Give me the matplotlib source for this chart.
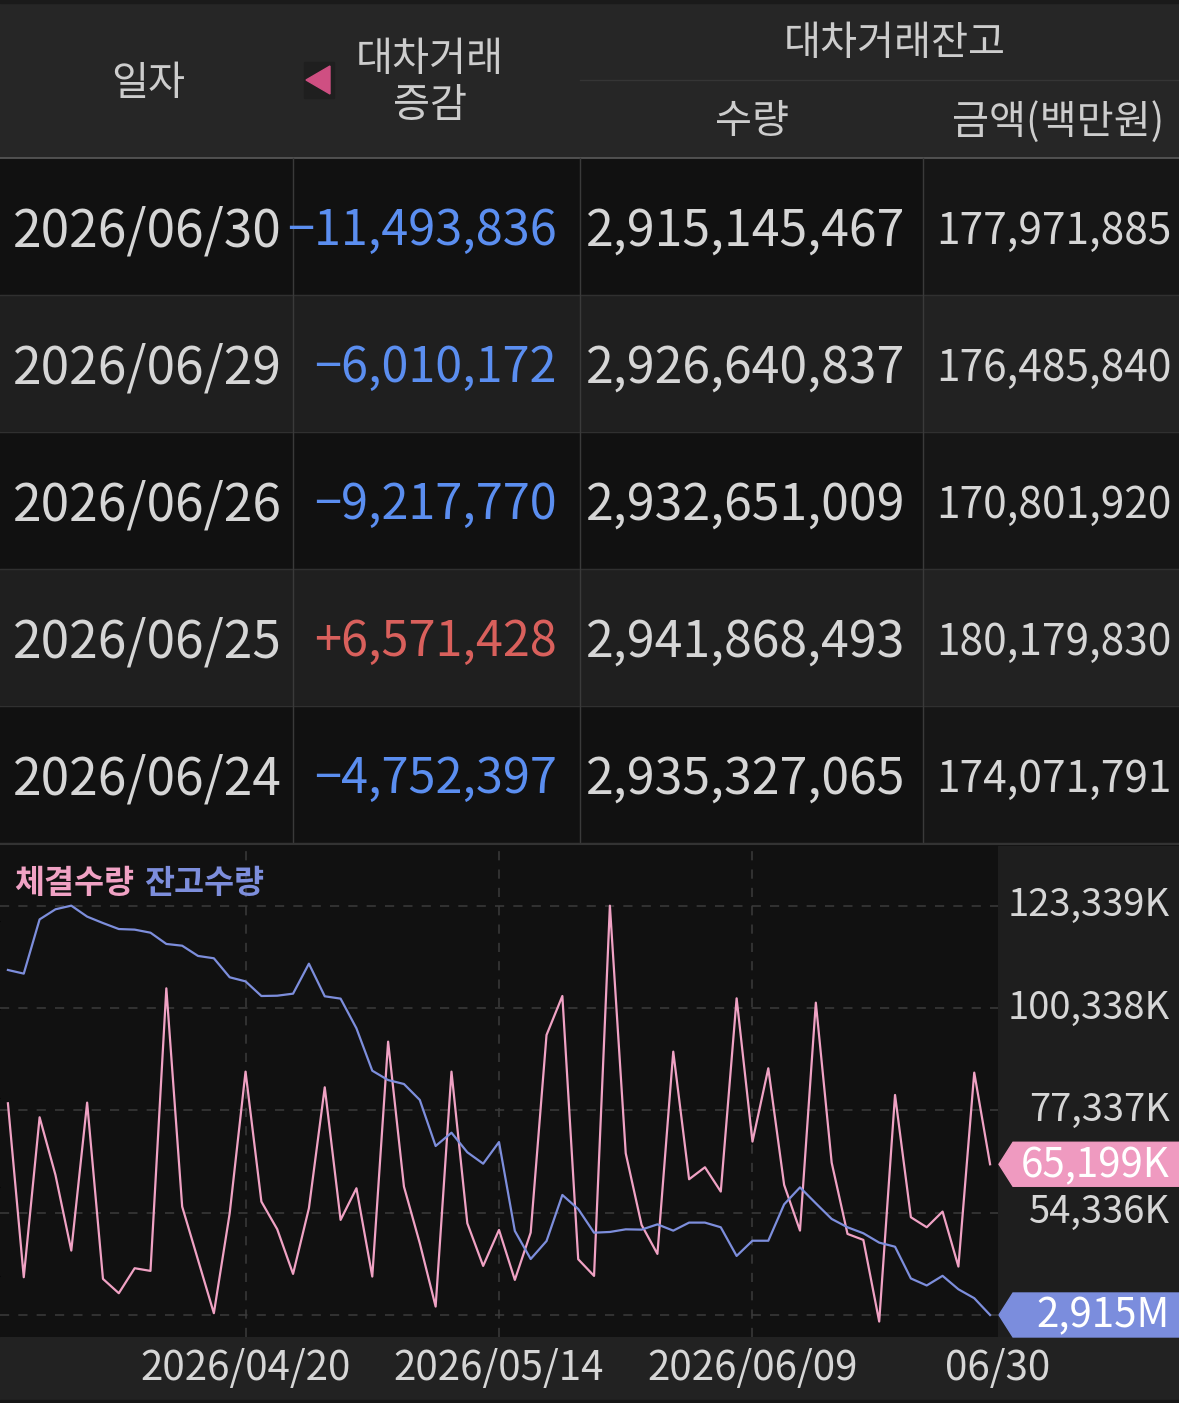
import matplotlib
matplotlib.use("Agg")
import matplotlib.pyplot as plt
import matplotlib.transforms as mtrans
from matplotlib.patches import Rectangle, Polygon
import numpy as np

plt.rcParams['font.family'] = ['Noto Sans CJK KR', 'DejaVu Sans']

W, H = 1179, 1403

# table rows (latest first)
dates = ['2026/06/30', '2026/06/29', '2026/06/26', '2026/06/25', '2026/06/24']
change = [-11493836, -6010172, -9217770, 6571428, -4752397]
bal_qty = [2915145467, 2926640837, 2932651009, 2941868493, 2935327065]
bal_amt = [177971885, 176485840, 170801920, 180179830, 174071791]

# chart: 63 trading days up to 2026/06/30
vol_k = [78911, 39803, 75765, 62804, 45797, 79061, 39429, 36207, 41826, 41227,
         104759, 55686, 43699, 31712, 54188, 86029, 56810, 50592, 40552, 55312,
         82508, 52689, 59807, 39953, 92772, 60181, 47445, 33210, 86029, 51940,
         42350, 50442, 39204, 49842, 94270, 103036, 43849, 40103, 123339, 67673,
         51566, 45048, 90524, 61830, 64527, 59058, 102511, 70296, 86778, 60556,
         50292, 101537, 65576, 49543, 48194, 29839, 80784, 53289, 51041, 54562,
         42201, 85804, 65199]
bal_m = [3151.1, 3148.6, 3185.7, 3192.6, 3195.1, 3187.6, 3183.2, 3179.1, 3178.7, 3176.6,
         3168.9, 3167.7, 3160.7, 3159.1, 3146.1, 3143.3, 3133.3, 3133.5, 3134.9, 3155.4,
         3133.1, 3131.5, 3111.2, 3082.2, 3075.8, 3073.1, 3062.2, 3030.7, 3039.8, 3026.4,
         3018.6, 3033.4, 2972.6, 2953.4, 2965.7, 2997.2, 2987.6, 2971.4, 2971.9, 2973.7,
         2973.5, 2977.1, 2972.8, 2978.3, 2978.3, 2975.1, 2955.5, 2965.9, 2965.9, 2990.8,
         3002.4, 2991.5, 2980.8, 2975.1, 2971.0, 2964.6, 2961.8, 2940.1, 2935.3, 2941.9,
         2932.7, 2926.6, 2915.1]
xtick_idx = [15, 31, 47]
xtick_labels = ['2026/04/20', '2026/05/14', '2026/06/09']
last_label = '06/30'
ytick_k = [123339, 100338, 77337, 54336, 31335]

PINK = '#f0a2c4'
BLUE = '#7d8edc'
TXT = '#d6d6d6'
HEAD = '#cdcdcd'

fig = plt.figure(figsize=(W / 100, H / 100), dpi=100)
fig.patch.set_facecolor('#111111')

# background / table layer, pixel coords, y down
bg = fig.add_axes([0, 0, 1, 1])
bg.set_zorder(-1)
bg.set_xlim(0, W)
bg.set_ylim(H, 0)
bg.axis('off')

# header
bg.add_patch(Rectangle((0, 0), W, 158, color='#262626'))
bg.add_patch(Rectangle((0, 0), W, 3, color='#1a1a1a'))
bg.plot([580, W], [80, 80], color='#353535', lw=1)
bg.plot([0, W], [158, 158], color='#5a5a5a', lw=1.2)
hs = 29
bg.text(148, 83, '일자', color=HEAD, fontsize=hs, ha='center', va='center')
bg.text(430, 59, '대차거래', color=HEAD, fontsize=hs, ha='center', va='center')
bg.text(430, 105, '증감', color=HEAD, fontsize=hs, ha='center', va='center')
bg.text(895, 43, '대차거래잔고', color=HEAD, fontsize=hs, ha='center', va='center')
bg.text(752, 122, '수량', color=HEAD, fontsize=hs, ha='center', va='center')
bg.text(1058, 122, '금액(백만원)', color=HEAD, fontsize=hs, ha='center', va='center')
bg.add_patch(Rectangle((304, 62), 30, 36, color='#1f1f1f'))
bg.add_patch(Polygon([[306, 80], [330, 66], [330, 94]], closed=True, color='#cf4f82'))

# body rows
row_h = 137
top = 158
for r in range(len(dates)):
    y0 = top + r * row_h
    c = '#111111' if r % 2 == 0 else '#1f1f1f'
    c4 = '#161616' if r % 2 == 0 else '#222222'
    bg.add_patch(Rectangle((0, y0), 923, row_h, color=c))
    bg.add_patch(Rectangle((923, y0), W - 923, row_h, color=c4))
    bg.plot([0, W], [y0 + row_h, y0 + row_h], color='#303030', lw=1)
    yc = y0 + row_h / 2 + 5
    bg.text(147, yc, dates[r], color=TXT, fontsize=37, ha='center', va='center')
    v = change[r]
    s = ('+' if v > 0 else '\u2212') + f'{abs(v):,}'
    bg.text(557, yc, s, color='#d9605c' if v > 0 else '#5b8ef0',
            fontsize=35, ha='right', va='center')
    bg.text(905, yc, f'{bal_qty[r]:,}', color=TXT, fontsize=36, ha='right', va='center')
    bg.text(1172, yc, f'{bal_amt[r]:,}', color=TXT, fontsize=30.5, ha='right', va='center')
for xv in [293, 580, 923]:
    bg.plot([xv, xv], [158, 843], color='#3a3a3a', lw=1)
bg.plot([0, W], [844, 844], color='#333333', lw=1.5)

# chart panels
bg.add_patch(Rectangle((998, 846), W - 998, 491, color='#1e1e1e'))
bg.add_patch(Rectangle((0, 1337), W, 63, color='#222222'))
bg.add_patch(Rectangle((0, 1400), W, 3, color='#161616'))

# chart
ax = fig.add_axes([0, (H - 1337) / H, 998 / W, 491 / H])
ax.set_facecolor('#111111')
x = np.arange(len(vol_k))
for v in ytick_k:
    ax.axhline(v, color='#3c3c3c', lw=1.1, ls=(0, (6, 6)), zorder=1)
for i in xtick_idx:
    ax.axvline(i, color='#3c3c3c', lw=1.1, ls=(0, (6, 6)), zorder=1)
ax.plot(x, vol_k, color=PINK, lw=1.6, zorder=3)
ax.set_xlim(-0.5, len(vol_k) - 0.5)
ax.set_ylim(26364, 136760)
ax.tick_params(left=False, bottom=False, labelleft=False, labelbottom=False)
for sp in ax.spines.values():
    sp.set_visible(False)

ax2 = ax.twinx()
ax2.plot(x, bal_m, color=BLUE, lw=1.6)
ax2.set_ylim(2900.05, 3235.9)
ax2.set_yticks([])
for sp in ax2.spines.values():
    sp.set_visible(False)

# right axis labels
blend = mtrans.blended_transform_factory(bg.transData, ax.transData)
for v in ytick_k[:-1]:
    ax.text(1170, v, f'{v:,}K', transform=blend, color=TXT, fontsize=27.5,
            ha='right', va='center', clip_on=False)

# x labels
blendx = mtrans.blended_transform_factory(ax.transData, bg.transData)
for i, lab in zip(xtick_idx, xtick_labels):
    ax.text(i, 1369, lab, transform=blendx, color=TXT, fontsize=29,
            ha='center', va='center', clip_on=False)

ov = fig.add_axes([0, 0, 1, 1])
ov.set_zorder(10)
ov.set_xlim(0, W)
ov.set_ylim(H, 0)
ov.axis('off')
ov.text(998, 1369, last_label, color=TXT, fontsize=29, ha='center', va='center')

# legend
ov.text(14, 884, '체결수량', color=PINK, fontsize=23.5, fontweight='bold', va='center')
ov.text(144, 884, '잔고수량', color=BLUE, fontsize=23.5, fontweight='bold', va='center')


def badge(axis, val, color, label):
    yp = H - axis.transData.transform((0, val))[1]
    hh = 22
    pts = [[999, yp], [1013, yp - hh], [W, yp - hh], [W, yp + hh], [1013, yp + hh]]
    ov.add_patch(Polygon(pts, closed=True, color=color, zorder=5))
    ov.text(1170, yp + 1, label, color='white', fontsize=29, ha='right', va='center', zorder=6)


badge(ax, vol_k[-1], '#ef9ac0', f'{vol_k[-1]:,}K')
badge(ax2, bal_m[-1], '#7b8ddd', f'{bal_qty[0] / 1e6:,.0f}M')

fig.savefig('out.png', dpi=100, facecolor=fig.get_facecolor())
